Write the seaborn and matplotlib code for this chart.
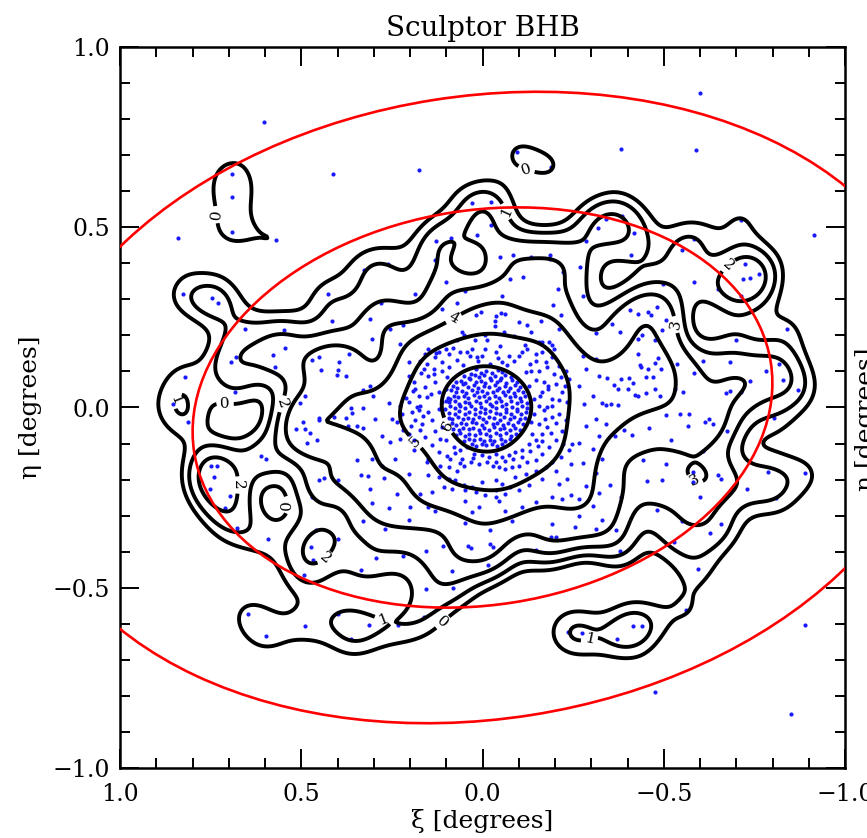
import numpy as np
import pandas as pd
import matplotlib
matplotlib.use("Agg")
import matplotlib.pyplot as plt
from matplotlib.patches import Ellipse
from matplotlib.ticker import MultipleLocator
import seaborn as sns

title = "Sculptor BHB"
x_label = "ξ [degrees]"
y_label = "η [degrees]"
x_ticks = [1.0, 0.5, 0.0, -0.5, -1.0]
x_tick_labels = ["1.0", "0.5", "0.0", "\u22120.5", "\u22121.0"]
y_ticks = [-1.0, -0.5, 0.0, 0.5, 1.0]
y_tick_labels = ["\u22121.0", "\u22120.5", "0.0", "0.5", "1.0"]

# red ellipses (semi-major axis in deg, axis ratio b/a, position angle of major axis)
ellipse_semi_major = [0.805, 1.27]
ellipse_axis_ratio = [0.68, 0.68]
ellipse_angle = [-9.0, -9.0]

# contour levels of smoothed star density (stars / deg^2) and their labels
kernel_sigma = 0.055
contour_levels = [60, 100, 160, 250, 480, 1100, 2700]
contour_labels = [0, 1, 2, 3, 4, 5, 6]

# BHB stars (xi, eta) in degrees -- outskirts
outer_pts = [
    (0.604, 0.791), (0.690, 0.648), (0.413, 0.648), (0.690, 0.585), (0.690, 0.486), (0.841, 0.470),
    (0.570, 0.465), (0.326, 0.381),
    (0.174, 0.659), (-0.094, 0.708), (-0.188, 0.668), (0.029, 0.566), (-0.024, 0.569), (-0.024, 0.506),
    (0.086, 0.469), (0.128, 0.461), (0.014, 0.478), (-0.319, 0.497), (-0.286, 0.462), (0.261, 0.398),
    (0.130, 0.409), (-0.049, 0.418), (-0.083, 0.423), (-0.135, 0.418), (-0.186, 0.423), (-0.186, 0.413),
    (-0.268, 0.391), (-0.223, 0.376), (0.102, 0.348), (-0.077, 0.356), (-0.113, 0.363),
    (-0.601, 0.873), (-0.382, 0.717), (-0.590, 0.714), (-0.342, 0.522), (-0.384, 0.531), (-0.417, 0.485),
    (-0.410, 0.424), (-0.551, 0.438), (-0.584, 0.468), (-0.714, 0.520), (-0.915, 0.478), (-0.723, 0.398),
    (-0.719, 0.356), (-0.739, 0.359), (-0.762, 0.370), (-0.497, 0.342), (-0.583, 0.349),
    (0.825, 0.314), (0.745, 0.305), (0.731, 0.289), (0.425, 0.314), (0.414, 0.240), (0.656, 0.217),
    (0.548, 0.214), (0.546, 0.166), (0.679, 0.140), (0.693, 0.125), (0.579, 0.145), (0.573, 0.113),
    (0.469, 0.131), (0.450, 0.140), (0.368, 0.148), (0.446, 0.104), (0.396, 0.125), (0.398, 0.104),
    (0.401, 0.090), (0.376, 0.086), (0.820, 0.085), (0.684, 0.044), (0.853, 0.009), (0.813, -0.039),
    (0.490, 0.032), (0.504, 0.012), (0.329, 0.048), (0.329, -0.001), (0.363, -0.001), (0.359, -0.014),
    (0.409, -0.026), (0.377, -0.030), (0.450, -0.030), (0.452, -0.036), (0.495, -0.039), (0.372, -0.050),
    (0.347, -0.050), (0.329, -0.056), (0.515, -0.061), (0.490, -0.061), (0.476, -0.072), (0.485, -0.098),
    (0.457, -0.090), (0.610, -0.135), (0.596, -0.144), (0.750, -0.161), (0.733, -0.161), (0.740, -0.192),
    (0.751, -0.225), (0.697, -0.246), (0.711, -0.280), (0.347, -0.147), (0.451, -0.202), (0.437, -0.195),
    (0.471, -0.248), (0.398, -0.201), (0.336, -0.188), (0.331, -0.315),
    (-0.650, 0.328), (-0.714, 0.310), (-0.408, 0.271), (-0.429, 0.260), (-0.457, 0.265), (-0.465, 0.256),
    (-0.481, 0.279), (-0.506, 0.242), (-0.356, 0.233), (-0.378, 0.209), (-0.440, 0.201), (-0.429, 0.189),
    (-0.477, 0.187), (-0.496, 0.214), (-0.839, 0.217), (-0.700, 0.187), (-0.428, 0.148), (-0.485, 0.138),
    (-0.434, 0.118), (-0.438, 0.113), (-0.456, 0.106), (-0.477, 0.123), (-0.493, 0.106), (-0.536, 0.120),
    (-0.609, 0.130), (-0.584, 0.096), (-0.682, 0.125), (-0.781, 0.101), (-0.819, 0.122), (-0.829, 0.076),
    (-0.739, 0.074), (-0.343, 0.081), (-0.382, 0.080), (-0.405, 0.082), (-0.451, 0.085), (-0.471, 0.085),
    (-0.363, 0.063), (-0.373, 0.051), (-0.402, 0.051), (-0.414, 0.067), (-0.477, 0.051), (-0.452, 0.041),
    (-0.422, 0.035), (-0.430, 0.031), (-0.490, 0.031), (-0.530, 0.051), (-0.554, 0.043), (-0.673, 0.039),
    (-0.682, 0.045), (-0.713, 0.043), (-0.870, 0.048), (-0.340, 0.007), (-0.354, 0.009), (-0.373, 0.007),
    (-0.505, -0.020), (-0.544, -0.018), (-0.570, -0.018), (-0.459, -0.057), (-0.567, -0.050),
    (-0.614, -0.039), (-0.625, -0.033), (-0.636, -0.046), (-0.675, -0.064), (-0.803, -0.029),
    (-0.342, -0.047), (-0.391, -0.063), (-0.412, -0.076), (-0.365, -0.080), (-0.520, -0.091),
    (-0.609, -0.122), (-0.443, -0.145), (-0.506, -0.156), (-0.453, -0.204), (-0.496, -0.200),
    (-0.580, -0.178), (-0.582, -0.208), (-0.650, -0.186), (-0.659, -0.199), (-0.788, -0.179),
    (-0.891, -0.183), (-0.351, -0.216), (-0.383, -0.248), (-0.601, -0.247), (-0.730, -0.225),
    (-0.811, -0.252), (-0.480, -0.285), (-0.549, -0.316), (-0.659, -0.322),
    (0.677, -0.334), (0.593, -0.366), (0.459, -0.341), (0.398, -0.366), (0.474, -0.388), (0.467, -0.422),
    (0.336, -0.450), (0.493, -0.465), (0.647, -0.572), (0.596, -0.635), (0.490, -0.607), (0.399, -0.572),
    (0.363, -0.643),
    (0.270, -0.336), (0.294, -0.417), (0.219, -0.413), (0.155, -0.397), (0.109, -0.385), (0.041, -0.383),
    (0.033, -0.391), (-0.022, -0.340), (-0.022, -0.380), (-0.030, -0.387), (-0.015, -0.436), (0.083, -0.454),
    (0.081, -0.502), (0.155, -0.504), (0.161, -0.582), (0.313, -0.602), (0.232, -0.604), (-0.147, -0.394),
    (-0.190, -0.360), (-0.204, -0.360), (-0.255, -0.331), (-0.312, -0.338), (-0.236, -0.622), (-0.274, -0.626),
    (-0.368, -0.341), (-0.379, -0.399), (-0.528, -0.374), (-0.628, -0.347), (-0.595, -0.447), (-0.560, -0.561),
    (-0.414, -0.607), (-0.440, -0.605), (-0.371, -0.642), (-0.891, -0.602), (-0.476, -0.788), (-0.850, -0.849),
]

# BHB stars in the body between the outskirts and the core
body_pts = [
    (0.310, 0.245), (0.280, 0.291), (0.305, 0.189), (0.255, 0.217), (0.310, 0.060), (0.301, 0.032),
    (0.259, 0.013), (0.296, -0.033), (0.250, -0.033), (0.278, -0.079), (0.255, -0.097), (0.305, -0.144),
    (0.278, -0.163), (0.241, -0.144), (0.315, -0.190), (0.273, -0.195), (0.310, -0.227), (0.305, -0.264),
    (0.259, -0.278), (0.236, -0.241),
    (-0.313, 0.208), (-0.277, 0.143), (-0.313, 0.134), (-0.285, 0.106), (-0.322, 0.087), (-0.267, 0.060),
    (-0.304, 0.032), (-0.331, 0.013), (-0.280, 0.009), (-0.313, -0.033), (-0.285, -0.051), (-0.322, -0.079),
    (-0.267, -0.098), (-0.304, -0.116), (-0.331, -0.144), (-0.276, -0.153), (-0.313, -0.181), (-0.285, -0.218),
    (-0.322, -0.237), (-0.267, -0.255), (-0.304, -0.274), (-0.267, -0.301), (-0.331, -0.311),
    (-0.055, 0.310), (-0.208, 0.328), (0.047, 0.324), (0.185, 0.314), (-0.276, 0.310),
    (0.204, -0.311), (0.047, -0.320), (-0.082, -0.315), (-0.193, -0.324),
    (0.112, 0.274), (0.070, 0.290), (0.019, 0.257), (0.003, 0.264), (-0.036, 0.255), (-0.052, 0.263),
    (-0.062, 0.260), (-0.195, 0.283), (-0.216, 0.257), (-0.160, 0.241), (-0.100, 0.237), (-0.122, 0.229),
    (-0.034, 0.241), (-0.034, 0.227), (0.218, 0.229), (0.056, 0.209), (0.052, 0.201), (-0.008, 0.200),
    (-0.013, 0.188), (-0.059, 0.209), (-0.087, 0.198), (-0.135, 0.209), (-0.156, 0.183), (-0.211, 0.218),
    (0.227, 0.176), (0.149, 0.163), (0.121, 0.155), (0.070, 0.186), (0.022, 0.188), (-0.193, 0.172),
    (-0.197, 0.161), (-0.165, 0.181), (-0.184, 0.183),
    (0.204, -0.184), (0.149, -0.188), (0.121, -0.193), (0.093, -0.198), (0.075, -0.202), (0.052, -0.216),
    (0.029, -0.221), (0.001, -0.207), (-0.036, -0.202), (-0.054, -0.211), (-0.077, -0.221), (-0.091, -0.193),
    (-0.119, -0.184), (-0.147, -0.175), (-0.174, -0.165), (-0.193, -0.151), (-0.216, -0.137), (-0.239, -0.119),
    (-0.248, -0.100), (-0.243, -0.156), (-0.202, -0.175), (-0.165, -0.198), (-0.128, -0.216), (-0.100, -0.230),
    (-0.063, -0.239), (-0.036, -0.230), (-0.008, -0.244), (0.019, -0.235), (0.047, -0.230), (0.084, -0.225),
    (0.107, -0.221), (0.139, -0.235), (0.172, -0.239), (0.149, -0.276), (0.047, -0.258), (0.010, -0.276),
    (-0.036, -0.249), (-0.045, -0.258),
    (0.199, -0.276), (0.130, -0.286), (0.029, -0.290), (-0.063, -0.286), (-0.110, -0.276), (-0.147, -0.263),
    (-0.193, -0.249), (-0.220, -0.253), (-0.243, -0.244), (-0.211, -0.212), (-0.234, -0.198),
]

# BHB stars in the ring around the core
ring_pts = [
    (0.204, 0.126), (0.172, 0.130), (0.130, 0.139), (0.093, 0.149), (0.082, 0.164), (0.061, 0.155),
    (0.042, 0.153), (0.029, 0.161), (0.015, 0.139), (0.001, 0.144), (-0.008, 0.163), (-0.036, 0.153),
    (-0.054, 0.126), (-0.073, 0.144), (-0.087, 0.130), (-0.110, 0.153), (-0.123, 0.163), (-0.147, 0.149),
    (-0.165, 0.153), (-0.174, 0.126), (-0.119, 0.098), (-0.133, 0.100), (-0.156, 0.102), (-0.193, 0.139),
    (-0.211, 0.116), (-0.230, 0.102), (-0.239, 0.079), (-0.202, 0.065), (-0.216, 0.084), (-0.182, 0.059),
    (-0.170, 0.070), (-0.147, 0.075), (-0.128, 0.061), (0.135, 0.107), (0.149, 0.088), (0.162, 0.107),
    (0.112, 0.102), (0.098, 0.084), (0.130, 0.070), (0.158, 0.056), (0.185, 0.051), (0.204, 0.088),
    (0.190, 0.070), (0.176, 0.033), (0.153, 0.028), (0.121, 0.042), (0.102, 0.051), (0.089, 0.024),
    (0.112, 0.014), (0.204, 0.014), (0.227, 0.005), (0.172, 0.005), (-0.142, 0.024), (-0.193, 0.024),
    (-0.220, 0.042), (-0.165, 0.042), (-0.156, 0.005), (-0.179, 0.000), (-0.234, 0.014),
    (0.236, -0.040), (0.222, -0.017), (0.195, -0.012), (0.176, -0.008), (0.149, -0.012), (0.121, -0.003),
    (0.185, -0.036), (0.167, -0.045), (0.139, -0.036), (0.204, -0.073), (0.227, -0.087), (0.190, -0.091),
    (0.158, -0.082), (0.130, -0.064), (0.112, -0.054), (0.102, -0.091), (0.079, -0.110), (0.061, -0.119),
    (0.042, -0.110), (0.024, -0.128), (0.001, -0.133), (0.056, -0.142), (0.089, -0.142), (0.121, -0.124),
    (0.149, -0.142), (0.153, -0.151), (0.116, -0.161), (0.093, -0.165), (0.070, -0.175), (0.052, -0.161),
    (0.033, -0.151), (0.010, -0.156), (-0.017, -0.137), (-0.036, -0.128), (-0.054, -0.137), (-0.073, -0.133),
    (-0.091, -0.124), (-0.110, -0.119), (-0.128, -0.100), (-0.147, -0.091), (-0.165, -0.073), (-0.179, -0.054),
    (-0.193, -0.026), (-0.211, -0.017), (-0.230, -0.036), (-0.220, -0.064), (-0.202, -0.091), (-0.184, -0.110),
    (-0.165, -0.128), (-0.147, -0.147), (-0.123, -0.151), (-0.100, -0.161), (-0.082, -0.165), (-0.063, -0.170),
    (-0.045, -0.165), (-0.036, -0.151), (-0.137, -0.073), (-0.156, -0.045), (-0.133, -0.040), (-0.142, -0.017),
    (-0.170, -0.008),
    (0.133, 0.093), (0.152, 0.121), (0.171, 0.097), (0.193, 0.047), (0.211, 0.027), (0.141, 0.038),
    (0.163, -0.024), (0.181, 0.002), (0.198, -0.052), (0.172, -0.063), (0.138, -0.104), (0.118, -0.088),
    (0.097, -0.134), (0.077, -0.127), (0.063, -0.153), (0.027, -0.141), (-0.012, -0.152), (-0.028, -0.163),
    (-0.061, -0.148), (-0.083, -0.142), (-0.108, -0.138), (-0.131, -0.122), (-0.152, -0.108), (-0.163, -0.094),
    (-0.188, -0.071), (-0.203, -0.043), (-0.172, -0.031), (-0.191, 0.004), (-0.212, 0.021), (-0.181, 0.052),
    (-0.158, 0.031), (-0.198, 0.093), (-0.179, 0.112), (-0.148, 0.128), (-0.132, 0.121), (-0.101, 0.142),
    (-0.068, 0.118), (-0.043, 0.138), (-0.021, 0.122), (0.012, 0.128), (0.034, 0.142), (0.053, 0.119),
    (0.071, 0.133), (0.092, 0.112), (0.113, 0.127), (0.128, 0.152), (0.101, 0.163), (-0.118, 0.172),
    (-0.048, 0.171), (0.158, 0.148), (-0.221, -0.102), (0.188, -0.118), (0.219, -0.063), (-0.228, 0.061),
]

# BHB stars in the dense core
core_pts = [
    (-0.055, 0.098), (-0.043, 0.104), (-0.027, 0.095), (-0.010, 0.101), (0.003, 0.097), (0.019, 0.106),
    (0.031, 0.094),
    (-0.078, 0.085), (-0.062, 0.090), (-0.051, 0.083), (-0.035, 0.088), (-0.021, 0.081), (-0.004, 0.089),
    (0.009, 0.084), (0.022, 0.091), (0.038, 0.082), (0.050, 0.087),
    (-0.094, 0.071), (-0.081, 0.076), (-0.066, 0.069), (-0.049, 0.075), (-0.039, 0.070), (-0.024, 0.077),
    (-0.008, 0.067), (0.005, 0.074), (0.018, 0.071), (0.034, 0.078), (0.047, 0.068), (0.060, 0.074),
    (0.074, 0.070),
    (-0.104, 0.058), (-0.089, 0.062), (-0.077, 0.055), (-0.061, 0.061), (-0.046, 0.054), (-0.034, 0.063),
    (-0.019, 0.057), (-0.003, 0.060), (0.012, 0.054), (0.024, 0.062), (0.041, 0.058), (0.053, 0.064),
    (0.069, 0.055), (0.081, 0.060),
    (-0.113, 0.043), (-0.098, 0.048), (-0.086, 0.040), (-0.070, 0.047), (-0.057, 0.042), (-0.041, 0.049),
    (-0.029, 0.044), (-0.012, 0.039), (0.001, 0.047), (0.016, 0.043), (0.029, 0.049), (0.045, 0.041),
    (0.057, 0.046), (0.073, 0.043), (0.086, 0.048),
    (-0.118, 0.031), (-0.103, 0.026), (-0.091, 0.033), (-0.075, 0.028), (-0.062, 0.034), (-0.046, 0.027),
    (-0.034, 0.032), (-0.018, 0.025), (-0.005, 0.033), (0.011, 0.029), (0.023, 0.034), (0.040, 0.026),
    (0.052, 0.031), (0.068, 0.028), (0.080, 0.033), (0.095, 0.027),
    (-0.122, 0.013), (-0.107, 0.018), (-0.095, 0.012), (-0.079, 0.017), (-0.066, 0.011), (-0.050, 0.019),
    (-0.038, 0.014), (-0.021, 0.010), (-0.009, 0.017), (0.007, 0.013), (0.019, 0.019), (0.036, 0.012),
    (0.048, 0.016), (0.064, 0.010), (0.076, 0.018), (0.092, 0.014), (0.101, 0.017),
    (-0.123, -0.002), (-0.110, 0.004), (-0.094, -0.003), (-0.082, 0.002), (-0.066, -0.004), (-0.053, 0.003),
    (-0.037, -0.001), (-0.025, 0.005), (-0.008, -0.003), (0.004, 0.002), (0.020, -0.004), (0.032, 0.004),
    (0.049, -0.002), (0.061, 0.003), (0.077, -0.001), (0.089, 0.004), (0.103, -0.003),
    (-0.121, -0.013), (-0.106, -0.018), (-0.094, -0.011), (-0.078, -0.017), (-0.065, -0.012), (-0.049, -0.019),
    (-0.037, -0.014), (-0.020, -0.010), (-0.008, -0.016), (0.008, -0.012), (0.020, -0.019), (0.037, -0.013),
    (0.049, -0.017), (0.065, -0.011), (0.077, -0.018), (0.093, -0.014),
    (-0.117, -0.028), (-0.104, -0.033), (-0.088, -0.027), (-0.076, -0.032), (-0.059, -0.026), (-0.047, -0.034),
    (-0.031, -0.029), (-0.018, -0.025), (-0.002, -0.031), (0.010, -0.027), (0.026, -0.033), (0.039, -0.028),
    (0.055, -0.032), (0.067, -0.026), (0.083, -0.031), (0.092, -0.028),
    (-0.112, -0.047), (-0.097, -0.041), (-0.085, -0.048), (-0.069, -0.043), (-0.056, -0.049), (-0.040, -0.042),
    (-0.028, -0.046), (-0.011, -0.041), (0.001, -0.048), (0.017, -0.044), (0.030, -0.040), (0.046, -0.047),
    (0.058, -0.042), (0.074, -0.048), (0.085, -0.044),
    (-0.104, -0.062), (-0.089, -0.057), (-0.077, -0.063), (-0.060, -0.058), (-0.048, -0.061), (-0.032, -0.055),
    (-0.019, -0.063), (-0.003, -0.058), (0.009, -0.062), (0.026, -0.056), (0.038, -0.061), (0.054, -0.057),
    (0.066, -0.063), (0.081, -0.059),
    (-0.093, -0.073), (-0.078, -0.078), (-0.066, -0.071), (-0.049, -0.077), (-0.037, -0.072), (-0.021, -0.079),
    (-0.009, -0.074), (0.007, -0.070), (0.020, -0.077), (0.036, -0.073), (0.048, -0.078), (0.063, -0.071),
    (0.072, -0.076),
    (-0.077, -0.088), (-0.062, -0.093), (-0.050, -0.087), (-0.033, -0.092), (-0.021, -0.089), (-0.005, -0.094),
    (0.008, -0.087), (0.024, -0.091), (0.036, -0.088), (0.051, -0.093),
    (-0.054, -0.102), (-0.039, -0.107), (-0.027, -0.100), (-0.010, -0.105), (0.002, -0.101), (0.018, -0.106),
    (0.029, -0.102),
]

stars = pd.DataFrame(outer_pts + body_pts + ring_pts + core_pts, columns=["xi", "eta"])

sns.set_theme(style="ticks")
plt.rcParams["font.family"] = ["DejaVu Serif", "DejaVu Sans"]
plt.rcParams["mathtext.fontset"] = "dejavuserif"
for key in ["text.color", "axes.labelcolor", "xtick.color", "ytick.color"]:
    plt.rcParams[key] = "black"

fig = plt.figure(figsize=(8.67, 8.38), dpi=100)
ax = fig.add_axes([120 / 867, 70 / 838, 725 / 867, 721 / 838])

sns.scatterplot(data=stars, x="xi", y="eta", s=9, color="#1a1aff", linewidth=0, ax=ax, zorder=2)

# smoothed density map of the stars
gx = np.linspace(-1.1, 1.1, 441)
gy = np.linspace(-1.1, 1.1, 441)
xs = stars["xi"].to_numpy()
ys = stars["eta"].to_numpy()
ex = np.exp(-(gx[None, :] - xs[:, None]) ** 2 / (2 * kernel_sigma ** 2))
ey = np.exp(-(gy[None, :] - ys[:, None]) ** 2 / (2 * kernel_sigma ** 2))
dens = ey.T @ ex / (2 * np.pi * kernel_sigma ** 2)

cs = ax.contour(gx, gy, dens, levels=contour_levels, colors="black", linewidths=2.8, zorder=3)
lab_map = {lev: str(lab) for lev, lab in zip(contour_levels, contour_labels)}
ax.clabel(cs, fmt=lambda v: lab_map[min(lab_map, key=lambda k: abs(k - v))],
          fontsize=11, inline=True, inline_spacing=3)

for a, q, ang in zip(ellipse_semi_major, ellipse_axis_ratio, ellipse_angle):
    ax.add_patch(Ellipse((0.0, 0.0), width=2 * a, height=2 * a * q, angle=ang,
                         fill=False, edgecolor="red", linewidth=1.9, zorder=4))

ax.set_xlim(1.0, -1.0)
ax.set_ylim(-1.0, 1.0)
ax.set_xticks(x_ticks)
ax.set_xticklabels(x_tick_labels)
ax.set_yticks(y_ticks)
ax.set_yticklabels(y_tick_labels)
ax.xaxis.set_minor_locator(MultipleLocator(0.1))
ax.yaxis.set_minor_locator(MultipleLocator(0.1))
ax.tick_params(which="both", direction="in", top=True, right=True, colors="black", width=1.4, labelsize=17)
ax.tick_params(which="major", length=14)
ax.tick_params(which="minor", length=7)
ax.tick_params(axis="x", pad=11)
ax.tick_params(axis="y", pad=7)
for sp in ax.spines.values():
    sp.set_linewidth(1.8)
    sp.set_color("black")

ax.set_xlabel(x_label, fontsize=18, labelpad=2)
ax.set_ylabel(y_label, fontsize=18, labelpad=8)
ax.set_title(title, fontsize=20, pad=8)

# label of the neighbouring panel, cut by the figure edge
fig.text(866 / 867, 0.5, y_label, rotation=90, ha="center", va="center", fontsize=18)

fig.savefig("out.png", dpi=100)
